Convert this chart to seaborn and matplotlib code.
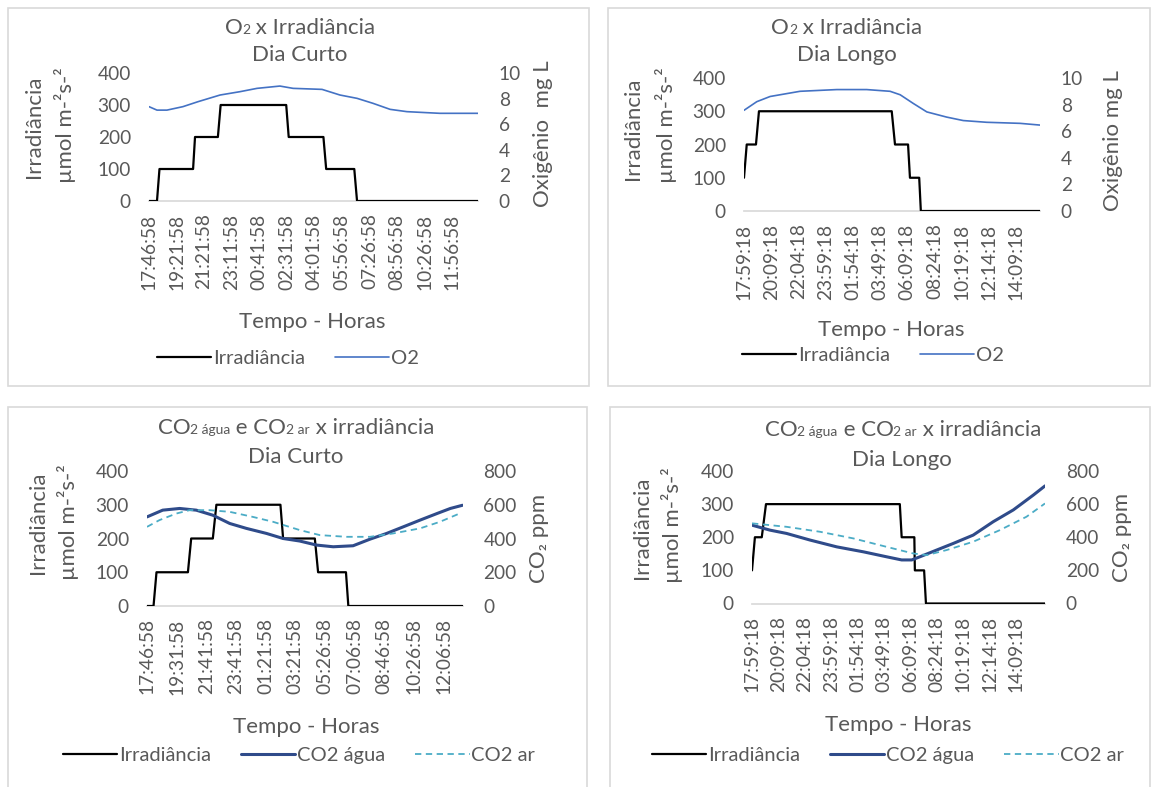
import pandas as pd
import seaborn as sns
import matplotlib.pyplot as plt
from matplotlib.offsetbox import TextArea, HPacker, AnnotationBbox
from matplotlib.patches import Rectangle

# ---- data (x = position in units of the tick-label spacing) ----
ticks_curto_o2 = ["17:46:58", "19:21:58", "21:21:58", "23:11:58", "00:41:58", "02:31:58",
                  "04:01:58", "05:56:58", "07:26:58", "08:56:58", "10:26:58", "11:56:58"]
irr_curto_o2_pos = [0, 0.29, 0.38, 1.6, 1.67, 2.5, 2.6, 4.98, 5.07, 6.33, 6.43, 7.45, 7.55, 11.94]
irr_curto_o2_val = [0, 0, 100, 100, 200, 200, 300, 300, 200, 200, 100, 100, 0, 0]
o2_curto_pos = [0, 0.29, 0.65, 1.23, 1.78, 2.58, 3.3, 3.92, 4.75, 5.23, 6.28, 6.93, 7.55,
                8.13, 8.75, 9.36, 10.09, 10.56, 11.94]
o2_curto_val = [7.37, 7.1, 7.1, 7.37, 7.76, 8.28, 8.54, 8.8, 8.98, 8.8, 8.72, 8.28, 8.02,
                7.63, 7.16, 6.98, 6.9, 6.85, 6.85]

ticks_longo = ["17:59:18", "20:09:18", "22:04:18", "23:59:18", "01:54:18", "03:49:18",
               "06:09:18", "08:24:18", "10:19:18", "12:14:18", "14:09:18"]
irr_longo_o2_pos = [0, 0.1, 0.44, 0.55, 5.43, 5.55, 6.03, 6.1, 6.44, 6.5, 10.88]
irr_longo_o2_val = [100, 200, 200, 300, 300, 200, 200, 100, 100, 0, 0]
o2_longo_pos = [0, 0.47, 0.96, 2.06, 3.41, 4.51, 5.37, 5.74, 6.22, 6.72, 7.45, 8.06, 8.92, 10.15, 10.88]
o2_longo_val = [7.57, 8.22, 8.61, 9.0, 9.13, 9.13, 9.0, 8.74, 8.09, 7.45, 7.06, 6.8, 6.67, 6.59, 6.46]

ticks_curto_co2 = ["17:46:58", "19:31:58", "21:41:58", "23:41:58", "01:21:58", "03:21:58",
                   "05:26:58", "07:06:58", "08:46:58", "10:26:58", "12:06:58"]
irr_curto_co2_pos = [0, 0.22, 0.32, 1.38, 1.49, 2.22, 2.34, 4.5, 4.59, 5.66, 5.77, 6.71, 6.79, 10.64]
irr_curto_co2_val = [0, 0, 100, 100, 200, 200, 300, 300, 200, 200, 100, 100, 0, 0]
co2agua_curto_pos = [0, 0.53, 1.1, 1.66, 2.22, 2.79, 3.35, 4.03, 4.59, 5.15, 5.72, 6.28, 6.95,
                     7.52, 8.08, 8.64, 9.21, 9.78, 10.23, 10.64]
co2agua_curto_val = [528, 568, 578, 568, 538, 489, 460, 430, 400, 385, 361, 351, 357,
                     396, 430, 469, 509, 548, 578, 597]
co2ar_curto_pos = [0, 0.42, 0.99, 1.44, 2.11, 2.79, 3.57, 4.25, 5.15, 5.83, 6.73, 7.52, 8.3,
                   9.21, 9.88, 10.54]
co2ar_curto_val = [469, 509, 548, 568, 568, 558, 528, 499, 450, 420, 410, 410, 430, 460, 499, 548]

irr_longo_co2_pos = [0, 0.11, 0.37, 0.53, 5.6, 5.67, 6.15, 6.17, 6.52, 6.59, 11.1]
irr_longo_co2_val = [100, 200, 200, 300, 300, 200, 200, 100, 100, 0, 0]
co2agua_longo_pos = [0, 0.68, 1.31, 2.2, 3.21, 4.22, 5.1, 5.67, 6.05, 6.36, 7.0, 7.63, 8.38,
                     9.14, 9.9, 10.66, 11.1]
co2agua_longo_val = [473, 443, 423, 383, 342, 312, 282, 263, 263, 282, 323, 363, 413,
                     494, 565, 655, 710]
co2ar_longo_pos = [0, 1.31, 2.58, 3.84, 5.1, 6.11, 6.62, 7.38, 8.38, 9.39, 10.4, 11.1]
co2ar_longo_val = [484, 463, 433, 393, 342, 302, 292, 323, 373, 443, 524, 604]

# ---- style ----
sns.set_theme(style="white")
FONT = ["Lato", "DejaVu Sans"]
plt.rcParams["font.family"] = FONT
TXT = "#595959"
GRID = "#D9D9D9"

W, H = 1157, 787
fig = plt.figure(figsize=(W / 100, H / 100), dpi=100)
fig.patch.set_facecolor("white")


def fx(x):
    return x / W


def fy(y):
    return 1 - y / H


def box(x0, y0, x1, y1):
    fig.add_artist(Rectangle((fx(x0), fy(y1)), fx(x1) - fx(x0), (y1 - y0) / H,
                             transform=fig.transFigure, fill=False, ec=GRID, lw=1.2))


def rich(parts, x, y):
    kids = [TextArea(s, textprops=dict(size=sz, color=TXT, family=FONT)) for s, sz in parts]
    pack = HPacker(children=kids, align="baseline", pad=0, sep=0)
    fig.add_artist(AnnotationBbox(pack, (fx(x), fy(y)), xycoords="figure fraction",
                                  frameon=False, box_alignment=(0.5, 0.5), pad=0))


def vtext(s, x, y, size=16):
    fig.text(fx(x), fy(y), s, rotation=90, ha="center", va="center", color=TXT, size=size)


def panel(rect, ticks, xmax, irr_pos, irr_val, right, rmax, rticks):
    left, right_px, top, bottom = rect
    ax = fig.add_axes([fx(left), fy(bottom), fx(right_px) - fx(left), (bottom - top) / H])
    ax2 = ax.twinx()
    sns.lineplot(x=irr_pos, y=irr_val, ax=ax, color="black", lw=1.6, estimator=None,
                 sort=False, legend=False, label="Irradiância")
    for pos, val, lab, kw in right:
        sns.lineplot(x=pos, y=val, ax=ax2, estimator=None, sort=False, legend=False,
                     label=lab, **kw)
    ax.set_xlim(0, xmax)
    ax.set_ylim(0, 400)
    ax2.set_ylim(0, rmax)
    ax.set_yticks([0, 100, 200, 300, 400])
    ax2.set_yticks(rticks)
    ax.set_xticks(range(len(ticks)))
    ax.set_xticklabels(ticks, rotation=90)
    ax.set_xlabel("")
    ax.set_ylabel("")
    ax2.set_ylabel("")
    for a in (ax, ax2):
        for sp in a.spines.values():
            sp.set_visible(False)
        a.set_facecolor("none")
    ax.spines["bottom"].set_visible(True)
    ax.spines["bottom"].set_color(GRID)
    ax.spines["bottom"].set_zorder(0)
    ax.tick_params(axis="x", length=0, pad=9, labelsize=13.8, labelcolor=TXT)
    ax.tick_params(axis="y", length=0, pad=13, labelsize=13.8, labelcolor=TXT)
    ax2.tick_params(axis="y", length=0, pad=15, labelsize=13.8, labelcolor=TXT)
    return ax, ax2


def legend(ax, ax2, x, y):
    h1, l1 = ax.get_legend_handles_labels()
    h2, l2 = ax2.get_legend_handles_labels()
    lg = ax.legend(h1 + h2, l1 + l2, loc="center", bbox_to_anchor=(fx(x), fy(y)),
                   bbox_transform=fig.transFigure, ncol=3, frameon=False, fontsize=14.5,
                   handlelength=2.7, handletextpad=0.08, columnspacing=1.5)
    for t in lg.get_texts():
        t.set_color(TXT)


# panel borders
box(8, 8, 589, 386)
box(608, 8, 1150, 386)
box(8, 407, 587, 800)
box(610, 407, 1150, 800)

o2_style = dict(color="#4472C4", lw=1.2)
agua_style = dict(color="#2F4B8A", lw=2.2)
ar_style = dict(color="#4BACC6", lw=1.3, dashes=(3.5, 2.5))

# ---- top left: O2 x Irradiância, Dia Curto ----
ax, ax2 = panel((149, 478, 73, 201), ticks_curto_o2, 11.94, irr_curto_o2_pos, irr_curto_o2_val,
                [(o2_curto_pos, o2_curto_val, "O2", o2_style)], 10, [0, 2, 4, 6, 8, 10])
rich([("O", 16), ("2", 10), (" x Irradiância", 16)], 300, 28)
fig.text(fx(300), fy(55), "Dia Curto", ha="center", va="center", color=TXT, size=16)
vtext("Irradiância", 34, 127)
vtext("µmol m-²s-²", 65, 125)
vtext("Oxigênio  mg L", 543, 134)
fig.text(fx(312), fy(322), "Tempo - Horas", ha="center", va="center", color=TXT, size=16)
legend(ax, ax2, 288, 358)

# ---- top right: O2 x Irradiância, Dia Longo ----
ax, ax2 = panel((744, 1040, 78, 211), ticks_longo, 10.88, irr_longo_o2_pos, irr_longo_o2_val,
                [(o2_longo_pos, o2_longo_val, "O2", o2_style)], 10, [0, 2, 4, 6, 8, 10])
rich([("O", 16), ("2", 10), (" x Irradiância", 16)], 847, 28)
fig.text(fx(847), fy(55), "Dia Longo", ha="center", va="center", color=TXT, size=16)
vtext("Irradiância", 633, 129)
vtext("µmol m-²s-²", 666, 125)
vtext("Oxigênio mg L", 1113, 141)
fig.text(fx(891), fy(330), "Tempo - Horas", ha="center", va="center", color=TXT, size=16)
legend(ax, ax2, 873, 355)

# ---- bottom left: CO2 água e CO2 ar x irradiância, Dia Curto ----
ax, ax2 = panel((147, 462.5, 471, 606), ticks_curto_co2, 10.64, irr_curto_co2_pos, irr_curto_co2_val,
                [(co2agua_curto_pos, co2agua_curto_val, "CO2 água", agua_style),
                 (co2ar_curto_pos, co2ar_curto_val, "CO2 ar", ar_style)],
                800, [0, 200, 400, 600, 800])
rich([("CO", 16), ("2 água", 10), (" e CO", 16), ("2 ar", 10), (" x irradiância", 16)], 296, 428)
fig.text(fx(296), fy(457), "Dia Curto", ha="center", va="center", color=TXT, size=16)
vtext("Irradiância", 38, 523)
vtext("µmol m-²s-²", 68, 522)
vtext("CO₂ ppm", 539, 538)
fig.text(fx(306), fy(727), "Tempo - Horas", ha="center", va="center", color=TXT, size=16)
legend(ax, ax2, 299, 755)

# ---- bottom right: CO2 água e CO2 ar x irradiância, Dia Longo ----
ax, ax2 = panel((752, 1045, 471, 603.5), ticks_longo, 11.1, irr_longo_co2_pos, irr_longo_co2_val,
                [(co2agua_longo_pos, co2agua_longo_val, "CO2 água", agua_style),
                 (co2ar_longo_pos, co2ar_longo_val, "CO2 ar", ar_style)],
                800, [0, 200, 400, 600, 800])
rich([("CO", 16), ("2 água", 10), (" e CO", 16), ("2 ar", 10), (" x irradiância", 16)], 903, 430)
fig.text(fx(902), fy(460), "Dia Longo", ha="center", va="center", color=TXT, size=16)
vtext("Irradiância", 642, 528)
vtext("µmol m-²s-²", 672, 525)
vtext("CO₂ ppm", 1122, 537)
fig.text(fx(898), fy(725), "Tempo - Horas", ha="center", va="center", color=TXT, size=16)
legend(ax, ax2, 888, 755)

fig.savefig("out.png", dpi=100, facecolor="white")
